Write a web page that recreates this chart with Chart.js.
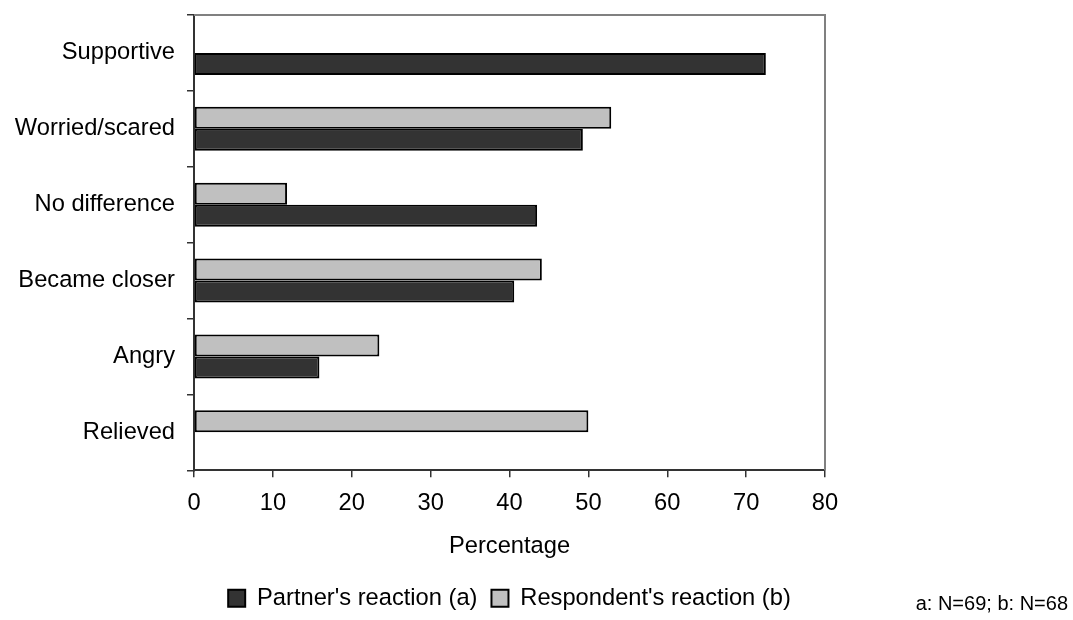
<!DOCTYPE html>
<html>
<head>
	<title>Partner and respondent reactions</title>
	<script src="https://cdn.jsdelivr.net/npm/chart.js"></script>
	<style>
		body { margin: 0; background: #fff; }
		#wrap { width: 1073px; height: 620px; }
	</style>
</head>
<body>
	<div id="wrap">
		<canvas id="myChart" width="1073" height="620"></canvas>
	</div>
	<script>
	// categories, top to bottom
	var reactions = ['Supportive', 'Worried/scared', 'No difference', 'Became closer', 'Angry', 'Relieved'];
	// percentages (null = no bar)
	var partner = [72.5, 49.3, 43.5, 40.6, 15.9, null];
	var respondent = [null, 52.9, 11.8, 44.1, 23.5, 50.0];
	var xTicks = [0, 10, 20, 30, 40, 50, 60, 70, 80];
	var note = 'a: N=69; b: N=68';

	var fontFamily = "'Liberation Sans', Arial, sans-serif";
	Chart.defaults.font.family = fontFamily;
	Chart.defaults.font.size = 23.7;
	Chart.defaults.color = '#000';

	// grey frame on top and right of the plot, plus the sample note
	var framePlugin = {
		id: 'frame',
		beforeDatasetsDraw: function (chart) {
			var a = chart.chartArea, c = chart.ctx;
			c.save();
			c.strokeStyle = '#808080';
			c.lineWidth = 2;
			c.beginPath();
			c.moveTo(a.left, a.top);
			c.lineTo(a.right, a.top);
			c.lineTo(a.right, a.bottom);
			c.stroke();
			c.restore();
		},
		afterDraw: function (chart) {
			var c = chart.ctx;
			c.save();
			c.font = '20px ' + fontFamily;
			c.fillStyle = '#000';
			c.textAlign = 'right';
			c.textBaseline = 'middle';
			c.fillText(note, 1068, 604);
			c.restore();
		}
	};

	const ctx = document.getElementById('myChart');
	new Chart(ctx, {
		type: 'bar',
		plugins: [framePlugin],
		data: {
			labels: reactions,
			datasets: [
				{
					label: "Respondent's reaction (b)",
					data: respondent,
					backgroundColor: '#c0c0c0',
					borderColor: '#000',
					borderWidth: 2,
					borderSkipped: false
				},
				{
					label: "Partner's reaction (a)",
					data: partner,
					backgroundColor: '#333333',
					borderColor: '#000',
					borderWidth: 2,
					borderSkipped: false
				}
			]
		},
		options: {
			indexAxis: 'y',
			responsive: false,
			animation: false,
			layout: { padding: { top: 15, right: 248, left: 0, bottom: 0 } },
			datasets: {
				bar: { categoryPercentage: 0.58, barPercentage: 1.0 }
			},
			plugins: {
				tooltip: { enabled: false },
				legend: {
					position: 'bottom',
					fullSize: false,
					labels: {
						boxWidth: 17,
						boxHeight: 17,
						padding: 14,
						font: { size: 23.7, lineHeight: 1.0 },
						sort: function (a, b) { return b.datasetIndex - a.datasetIndex; }
					}
				}
			},
			scales: {
				x: {
					min: 0,
					max: 80,
					afterBuildTicks: function (axis) {
						axis.ticks = xTicks.map(function (v) { return { value: v }; });
					},
					afterFit: function (axis) { axis.height = 102; },
					border: { color: '#333', width: 2 },
					grid: { drawOnChartArea: false, tickLength: 7, color: '#333', lineWidth: 1.5 },
					ticks: { padding: 12, maxRotation: 0 },
					title: {
						display: true,
						text: 'Percentage',
						padding: { top: 0, bottom: 12 }
					}
				},
				y: {
					afterFit: function (axis) {
						axis.width = 194;
						axis.paddingTop = 0;
						axis.paddingBottom = 0;
					},
					border: { color: '#333', width: 2 },
					grid: { drawOnChartArea: false, tickLength: 7, color: '#333', lineWidth: 1.5, offset: true },
					ticks: { padding: 12 }
				}
			}
		}
	});
	</script>
</body>
</html>
